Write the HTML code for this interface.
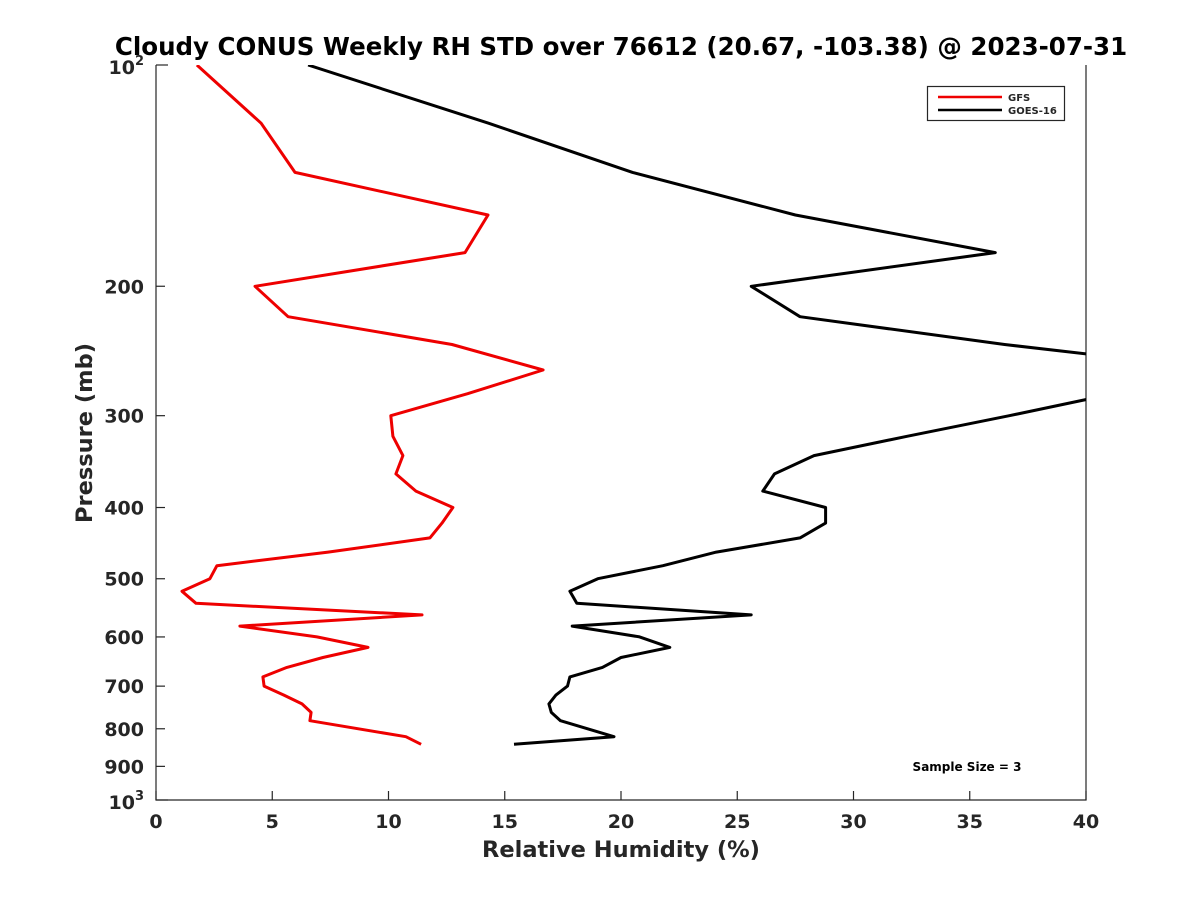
<!DOCTYPE html>
<html><head><meta charset="utf-8"><style>
body{margin:0;background:#fff;}
svg text{font-family:"DejaVu Sans","Liberation Sans",sans-serif;font-weight:bold;fill:#262626;}
</style></head><body>
<svg id="chart" width="1200" height="900" viewBox="0 0 1200 900" xmlns="http://www.w3.org/2000/svg">
<defs><clipPath id="clip"><rect x="156" y="65" width="930" height="735"/></clipPath></defs>
<rect width="1200" height="900" fill="#fff"/>
<text x="621" y="55" text-anchor="middle" font-size="24.5" style="fill:#000">Cloudy CONUS Weekly RH STD over 76612 (20.67, -103.38) @ 2023-07-31</text>
<g id="axes"></g>
<g id="series" clip-path="url(#clip)"></g>
<text x="621" y="857" text-anchor="middle" font-size="22.5">Relative Humidity (%)</text>
<text transform="translate(92,433) rotate(-90)" text-anchor="middle" font-size="22.5">Pressure (mb)</text>
<g>
<rect x="927.5" y="86.5" width="137" height="34" fill="#fff" stroke="#262626" stroke-width="1.2"/>
<line x1="938" y1="97" x2="1002" y2="97" stroke="#e00" stroke-width="2.5"/>
<text x="1008" y="101" font-size="10">GFS</text>
<line x1="938" y1="110" x2="1002" y2="110" stroke="#000" stroke-width="2.5"/>
<text x="1008" y="114" font-size="10">GOES-16</text>
</g>
<text x="967" y="771" text-anchor="middle" font-size="12" style="fill:#000">Sample Size = 3</text>
</svg>
<script>
const pressures = [100,120,140,160,180,200,220,240,260,280,300,320,340,360,380,400,420,440,460,480,500,520,540,560,580,600,620,640,660,680,700,720,740,760,780,820,840];
const gfsValues = [1.76,4.52,5.98,14.28,13.29,4.26,5.68,12.73,16.65,13.4,10.1,10.19,10.62,10.32,11.18,12.77,12.3,11.78,7.4,2.62,2.32,1.12,1.72,11.44,3.61,6.92,9.12,7.18,5.63,4.6,4.65,5.5,6.28,6.67,6.62,10.75,11.4];
const goesValues = [6.54,14.3,20.5,27.5,36.1,25.6,27.7,36.5,46,41.2,36.7,32.3,28.3,26.6,26.1,28.8,28.8,27.7,24.1,21.8,19.0,17.8,18.1,25.6,17.9,20.8,22.1,20.0,19.2,17.8,17.7,17.2,16.9,17.0,17.4,19.7,15.4];
const xTicks = [0,5,10,15,20,25,30,35,40];
const yTicks = [200,300,400,500,600,700,800,900];

const NS="http://www.w3.org/2000/svg";
const X0=156,X1=1086,Y0=65,Y1=800;
const xs=v=>X0+(v/40)*(X1-X0);
const ys=p=>Y0+(Math.log10(p)-2)*(Y1-Y0);
function mk(tag,attrs,parent){const e=document.createElementNS(NS,tag);for(const k in attrs)e.setAttribute(k,attrs[k]);parent.appendChild(e);return e;}
const ax=document.getElementById('axes');
const frame=mk('path',{d:`M${X0},${Y0} L${X0},${Y1} L${X1},${Y1} L${X1},${Y0}`,fill:'none',stroke:'#262626','stroke-width':1.2},ax);


xTicks.forEach(v=>{
  const x=xs(v);
  mk('line',{x1:x,y1:Y1,x2:x,y2:Y1-9,stroke:'#262626','stroke-width':1.2},ax);
  const t=mk('text',{x:x,y:Y1+28,'text-anchor':'middle','font-size':19},ax);
  t.textContent=v;
  
  
});
yTicks.forEach(p=>{
  const y=ys(p);
  mk('line',{x1:X0,y1:y,x2:X0+9,y2:y,stroke:'#262626','stroke-width':1.2},ax);
  const t=mk('text',{x:X0-12,y:y+7,'text-anchor':'end','font-size':19},ax);
  t.textContent=p;
  
  
});
[[100,'2'],[1000,'3']].forEach(([p,e])=>{
  const y=ys(p);
  mk('line',{x1:X0,y1:y,x2:X0+12,y2:y,stroke:'#262626','stroke-width':1.2},ax);
  const t=mk('text',{x:X0-12,y:y+9,'text-anchor':'end','font-size':19},ax);
  t.innerHTML='10<tspan dy="-9" font-size="13">'+e+'</tspan>';
  
  
});
const sg=document.getElementById('series');
function line(vals,color,name){
  const d=vals.map((v,i)=>(i?'L':'M')+xs(v).toFixed(1)+','+ys(pressures[i]).toFixed(1)).join(' ');
  const p=mk('path',{d:d,fill:'none',stroke:color,'stroke-width':3,'stroke-linejoin':'round'},sg);
  
  
}
line(gfsValues,'#e00','gfs-line');
line(goesValues,'#000','goes16-line');
</script>
</body></html>
